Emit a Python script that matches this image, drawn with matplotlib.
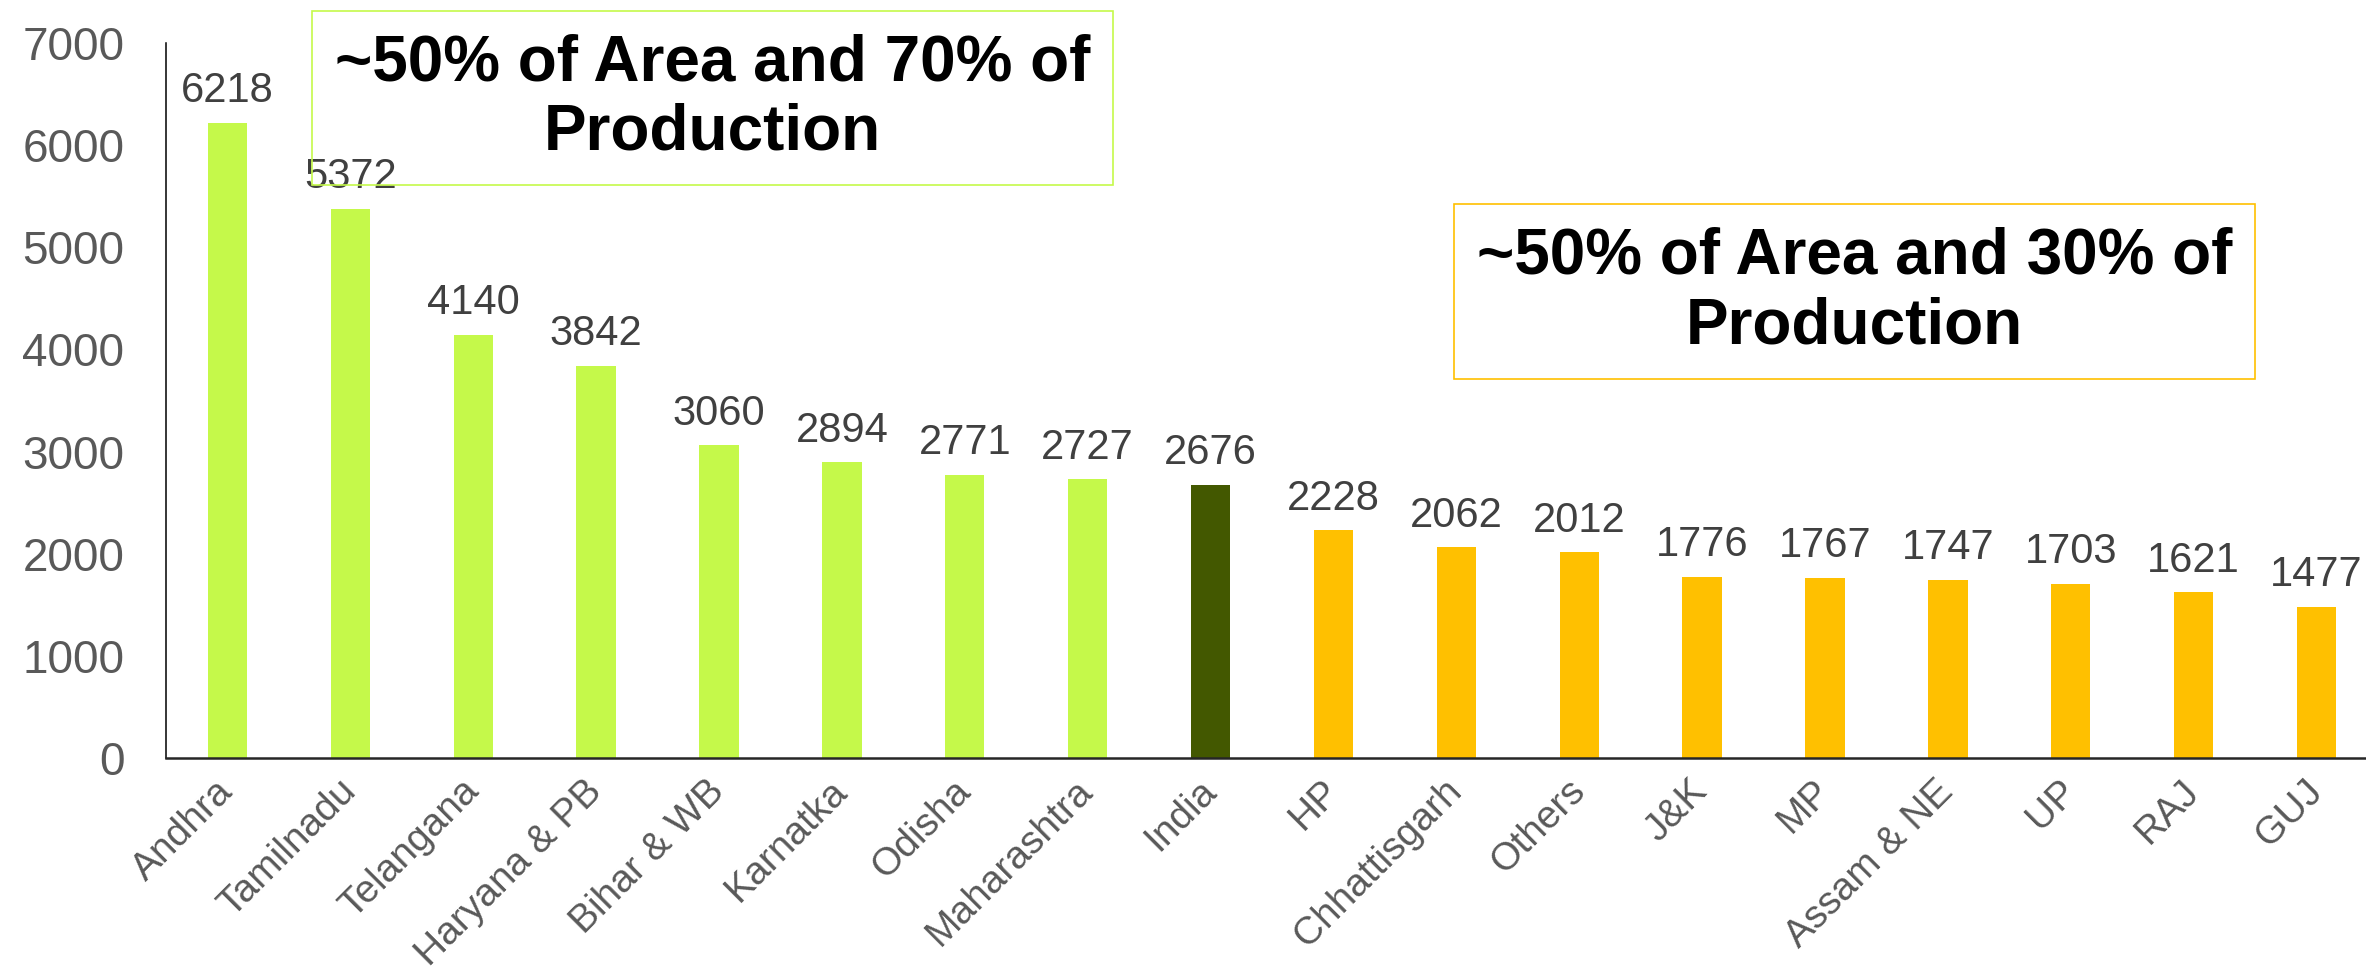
import matplotlib
matplotlib.use("Agg")
import matplotlib.pyplot as plt
from matplotlib.patches import Rectangle

plt.rcParams['font.family'] = ['Liberation Sans', 'DejaVu Sans']

categories = ["Andhra", "Tamilnadu", "Telangana", "Haryana & PB", "Bihar & WB",
              "Karnatka", "Odisha", "Maharashtra", "India", "HP", "Chhattisgarh",
              "Others", "J&K", "MP", "Assam & NE", "UP", "RAJ", "GUJ"]
values = [6218, 5372, 4140, 3842, 3060, 2894, 2771, 2727, 2676, 2228, 2062,
          2012, 1776, 1767, 1747, 1703, 1621, 1477]
groups = ["high"] * 8 + ["india"] + ["low"] * 9
yticks = [0, 1000, 2000, 3000, 4000, 5000, 6000, 7000]
note_high = "~50% of Area and 70% of\nProduction"
note_low = "~50% of Area and 30% of\nProduction"

group_colors = {"high": "#C5F94A", "india": "#435800", "low": "#FFC000"}
colors = [group_colors[g] for g in groups]

W, H = 2366, 968
fig = plt.figure(figsize=(W / 100, H / 100), dpi=100)
ax = fig.add_axes([166 / W, (H - 758) / H, (2378 - 166) / W, 715 / H])

x = list(range(len(categories)))
bars = ax.bar(x, values, width=0.32, color=colors, zorder=2)
ax.set_xlim(-0.5, len(categories) - 0.5)
ax.set_ylim(0, 7000)
ax.set_yticks(yticks)
ax.set_yticklabels([str(t) for t in yticks], fontsize=33, color="#595959")
ax.set_xticks(x)
ax.set_xticklabels(categories, fontsize=28, color="#595959", rotation=45,
                   ha="right", va="center", rotation_mode="anchor")
ax.tick_params(axis="y", length=0, pad=30)
ax.tick_params(axis="x", length=0, pad=20)

for s in ["top", "right"]:
    ax.spines[s].set_visible(False)
ax.spines["left"].set_linewidth(1.1)
ax.spines["left"].set_color("#000000")
ax.spines["bottom"].set_linewidth(1.8)
ax.spines["bottom"].set_color("#262626")

for xi, v in zip(x, values):
    ax.annotate(str(v), xy=(xi, v), xytext=(0, 15), textcoords="offset points",
                ha="center", va="baseline", fontsize=30, color="#404040", zorder=7)

# annotation boxes
def note_box(x0, y0, x1, y1, edge, text):
    fig.patches.append(Rectangle((x0 / W, (H - y1) / H), (x1 - x0) / W, (y1 - y0) / H,
                                 transform=fig.transFigure, fill=False,
                                 edgecolor=edge, linewidth=1.2, zorder=5))
    fig.text((x0 + x1) / 2 / W, (H - (y0 + y1) / 2) / H, text, ha="center",
             va="center", fontsize=46, fontweight="bold", color="black",
             linespacing=1.2, zorder=6)

note_box(312, 11, 1113, 185, "#C5F94A", note_high)
note_box(1454, 204, 2255, 379, "#FFC000", note_low)

fig.savefig("out.png", dpi=100)
